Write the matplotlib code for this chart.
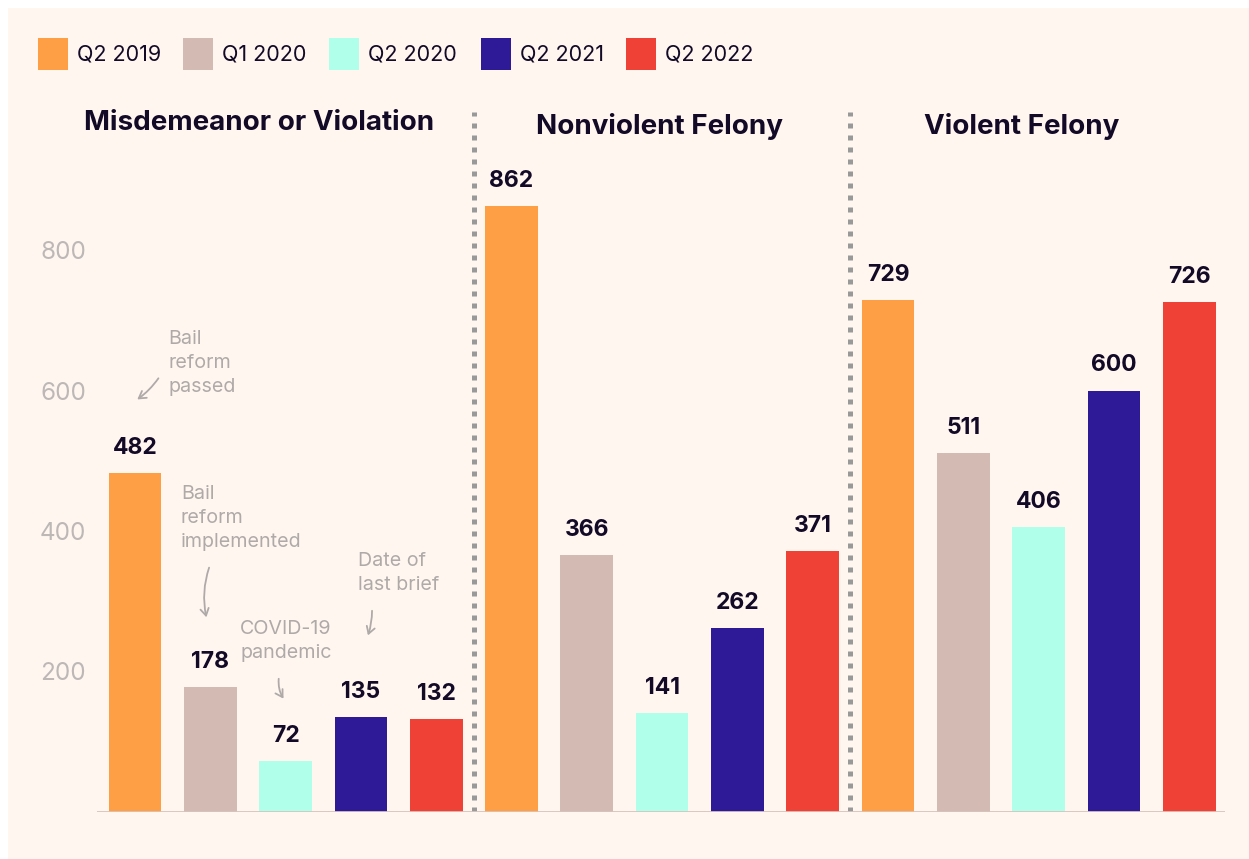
import matplotlib
matplotlib.use("Agg")
import matplotlib.pyplot as plt
from matplotlib.patches import Rectangle, FancyArrowPatch

categories = ["Misdemeanor or Violation", "Nonviolent Felony", "Violent Felony"]
periods = ["Q2 2019", "Q1 2020", "Q2 2020", "Q2 2021", "Q2 2022"]
misdemeanor = [482, 178, 72, 135, 132]
nonviolent = [862, 366, 141, 262, 371]
violent = [729, 511, 406, 600, 726]
yticks = [200, 400, 600, 800]

colors = ["#FF9F45", "#D3BAB3", "#AFFFEB", "#2E1A96", "#EF4136"]
bg = "#FFF6F0"
dark = "#120A26"
grey_txt = "#AFAAA8"

W, H = 1249, 859
fig = plt.figure(figsize=(W / 100, H / 100), dpi=100)
fig.patch.set_facecolor("white")
fig.patches.append(Rectangle((8 / W, 0), 1, 1 - 8 / H, transform=fig.transFigure,
                             facecolor=bg, edgecolor="none", zorder=-10))

plt.rcParams["font.family"] = ["Inter", "DejaVu Sans"]

# axes placement in pixels
x0, x1 = 97, 1225
ybot, ytop = 812, 112
ax = fig.add_axes([x0 / W, 1 - ybot / H, (x1 - x0) / W, (ybot - ytop) / H])
ax.set_facecolor("none")
px_per_unit = 140.5 / 200
ax.set_ylim(0, (ybot - ytop) / px_per_unit)
step = 75.3
ax.set_xlim((x0 - 135) / step, (x1 - 135) / step)

groups = [misdemeanor, nonviolent, violent]
for g, vals in enumerate(groups):
    for i, v in enumerate(vals):
        xpos = g * 5 + i
        ax.bar(xpos, v, width=0.70, color=colors[i], edgecolor="none", zorder=2)
        ax.text(xpos, v + 20, str(v), ha="center", va="bottom", fontsize=16.5,
                fontweight="bold", color=dark, zorder=3)
    if g > 0:
        ax.axvline(g * 5 - 0.5, ymin=0, ymax=1, color="#999999", lw=3.6,
                   linestyle=(0, (1, 1.4)), zorder=1)

ax.axhline(0, color="#D6C4BE", lw=2, zorder=3)
for s in ax.spines.values():
    s.set_visible(False)
ax.set_xticks([])
ax.set_yticks(yticks)
ax.set_yticklabels([str(t) for t in yticks], fontsize=17.5, color="#BDB8B6")
ax.tick_params(axis="y", length=0, pad=8)

# category titles (figure pixel positions)
def fxy(x, y):
    return x / W, 1 - y / H

title_pos = [(259, 123), (659, 127), (1022, 127)]
for cat, (tx, ty) in zip(categories, title_pos):
    fig.text(*fxy(tx, ty), cat, ha="center", va="center", fontsize=20,
             fontweight="bold", color=dark)

# legend
leg_x = [38, 183, 329, 481, 626]
for lab, c, lx in zip(periods, colors, leg_x):
    fig.patches.append(Rectangle(fxy(lx, 70), 30 / W, 32 / H, transform=fig.transFigure,
                                 facecolor=c, edgecolor="none"))
    fig.text(*fxy(lx + 39, 54), lab, ha="left", va="center", fontsize=15.5, color=dark)

# annotations
ann = [
    ("Bail\nreform\npassed", 168, 340),
    ("Bail\nreform\nimplemented", 181, 495),
    ("COVID-19\npandemic", 240, 630),
    ("Date of\nlast brief", 358, 562),
]
for txt, tx, ty in ann:
    fig.text(*fxy(tx, ty - 10), txt, ha="left", va="top", fontsize=14.2,
             color=grey_txt, linespacing=1.42)

arrows = [
    ((160, 376), (135, 401), -0.1),
    ((210, 565), (207, 620), 0.15),
    ((279, 676), (285, 701), 0.2),
    ((372, 608), (367, 638), -0.1),
]
for (sx, sy), (ex, ey), rad in arrows:
    a = FancyArrowPatch(fxy(sx, sy), fxy(ex, ey), transform=fig.transFigure,
                        arrowstyle="->,head_length=5,head_width=3",
                        connectionstyle=f"arc3,rad={rad}", color=grey_txt, lw=1.3)
    fig.patches.append(a)

fig.savefig("out.png", dpi=100, facecolor=fig.get_facecolor())
